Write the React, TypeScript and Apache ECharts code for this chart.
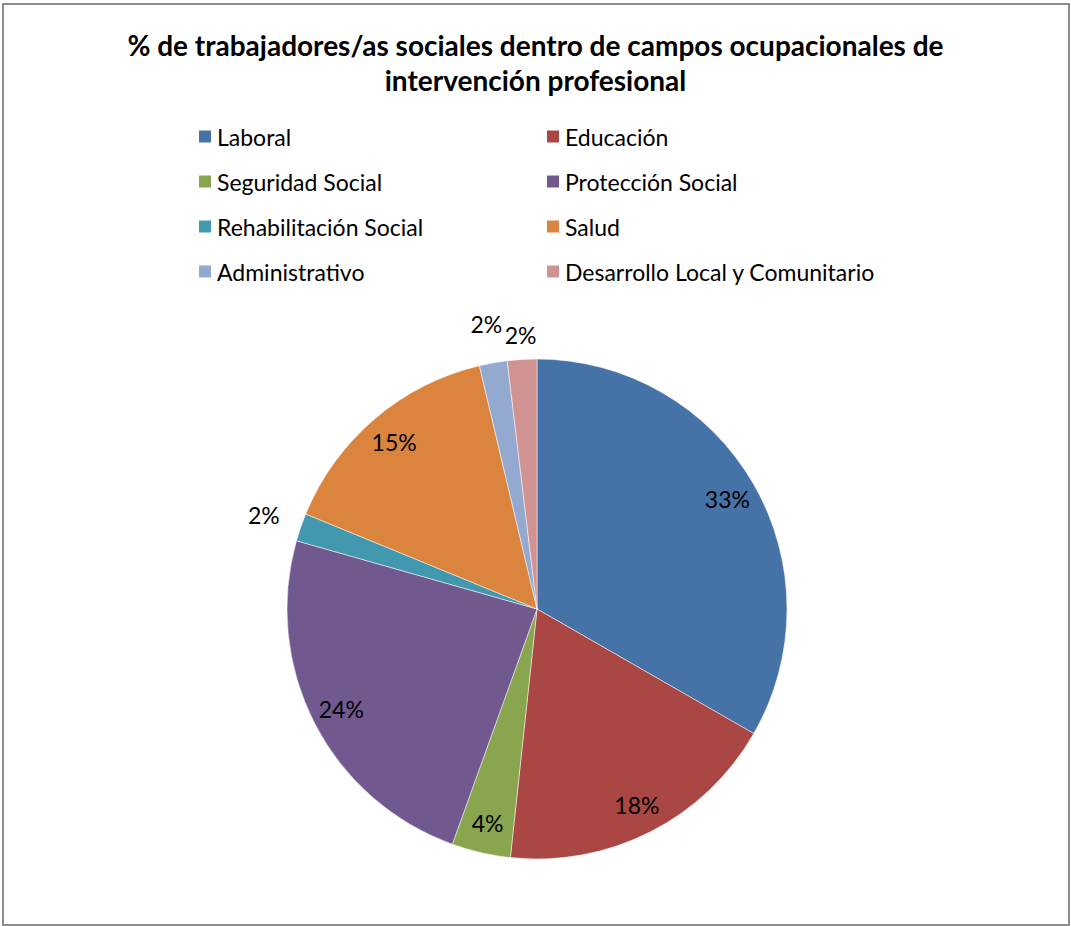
import React, { useEffect, useRef } from "react";
import * as echarts from "echarts";

const categories = [
  "Laboral",
  "Educación",
  "Seguridad Social",
  "Protección Social",
  "Rehabilitación Social",
  "Salud",
  "Administrativo",
  "Desarrollo Local y Comunitario",
];
const values = [33.3, 18.4, 3.8, 23.9, 1.8, 15.1, 1.8, 1.9];
const colors = ["#4572A7", "#AA4643", "#89A54E", "#71588F", "#4198AF", "#DB843D", "#93A9CF", "#D19392"];
const legendLeft = ["Laboral", "Seguridad Social", "Rehabilitación Social", "Administrativo"];
const legendRight = ["Educación", "Protección Social", "Salud", "Desarrollo Local y Comunitario"];
const title = "% de trabajadores/as sociales dentro de campos ocupacionales de\nintervención profesional";

const FONT = "Lato, 'Open Sans', sans-serif";

export default function App() {
  const ref = useRef<HTMLDivElement>(null);
  useEffect(() => {
    if (!ref.current) return;
    const chart = echarts.init(ref.current, undefined, { renderer: "svg" });
    const total = values.reduce((a, b) => a + b, 0);
    const fmt = (p: any) => Math.round((p.value / total) * 100) + "%";
    const baseData = categories.map((name, i) => ({ name, value: values[i], itemStyle: { color: colors[i] } }));
    const lastIdx = categories.length - 1;
    const overlayData = (showIf: (v: number, i: number) => boolean) =>
      categories.map((name, i) => ({
        name: name + "__",
        value: values[i],
        label: { show: showIf(values[i], i) },
      }));
    const labelStyle = { position: "inside", formatter: fmt, fontFamily: FONT, fontSize: 23, color: "#000" };
    const overlayBase = {
      type: "pie",
      center: [537, 609],
      startAngle: 90,
      silent: true,
      legendHoverLink: false,
      itemStyle: { color: "rgba(0,0,0,0)" },
      labelLine: { show: false },
      emphasis: { disabled: true },
      label: labelStyle,
    };
    const legendText = { fontFamily: FONT, fontSize: 23, color: "#000", lineHeight: 23 };
    chart.setOption({
      animation: false,
      backgroundColor: "#ffffff",
      title: {
        text: title,
        left: "center",
        top: 22,
        textStyle: { fontFamily: FONT, fontSize: 28, fontWeight: "bold", color: "#000", lineHeight: 35 },
      },
      legend: [
        {
          data: legendLeft,
          orient: "vertical",
          left: 192,
          top: 120,
          itemWidth: 14,
          itemHeight: 14,
          itemGap: 22,
          icon: "rect",
          textStyle: legendText,
          selectedMode: false,
        },
        {
          data: legendRight,
          orient: "vertical",
          left: 540,
          top: 120,
          itemWidth: 14,
          itemHeight: 14,
          itemGap: 22,
          icon: "rect",
          textStyle: legendText,
          selectedMode: false,
        },
      ],
      graphic: [
        {
          type: "rect",
          shape: { x: 3, y: 4, width: 1066, height: 921 },
          style: { fill: "none", stroke: "#8c8c8c", lineWidth: 2 },
          silent: true,
        },
      ],
      series: [
        {
          type: "pie",
          center: [537, 609],
          radius: 250,
          startAngle: 90,
          data: baseData,
          label: { show: false },
          labelLine: { show: false },
          itemStyle: { borderColor: "#ffffff", borderWidth: 0.5 },
          emphasis: { disabled: true },
        },
        {
          ...overlayBase,
          radius: 434,
          data: overlayData((v) => v >= 3),
        },
        {
          ...overlayBase,
          radius: 572,
          data: overlayData((v, i) => v < 3 && i !== lastIdx),
        },
        {
          ...overlayBase,
          radius: 542,
          data: overlayData((v, i) => v < 3 && i === lastIdx),
        },
      ],
    });
    return () => chart.dispose();
  }, []);
  return <div ref={ref} style={{ position: "absolute", left: 0, top: 0, width: 1071, height: 926 }} />;
}
